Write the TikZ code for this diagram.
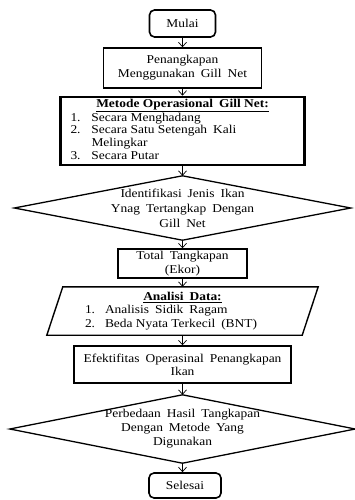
\documentclass[tikz,border=0pt]{standalone}
\usepackage{fontspec}
\setmainfont{Liberation Serif}[FakeStretch=1.12]
\usetikzlibrary{arrows.meta,calc}
\newcommand{\dsp}{\hspace{0.5em}}
\begin{document}
\begin{tikzpicture}[x=1pt,y=-1pt,
  every node/.style={font=\fontsize{12}{13}\selectfont, align=center, inner sep=0pt},
  blk/.style={draw, line width=1.4pt},
  term/.style={draw, line width=1.6pt, rounded corners=5pt},
  ghost/.style={draw=none},
  shapeline/.style={line width=1.3pt, line join=miter},
  arr/.style={line width=0.7pt, -{Straight Barb[length=4.5pt,width=8pt,line width=0.7pt]}}]
\useasboundingbox (0,0) rectangle (354,500);

\node[term, minimum width=66, minimum height=27] (start) at (182.5,23.5) {Mulai};
\node[blk, minimum width=158, minimum height=40, font=\fontsize{12}{14}\selectfont] (p1) at (182.5,68) {Penangkapan\\Menggunakan\dsp Gill\dsp Net};
\node[blk, line width=2.6pt, minimum width=244, minimum height=68, font=\fontsize{12}{12.8}\selectfont] (m) at (182.5,131)
 {\raisebox{-1pt}{\begin{tabular}{@{}p{21pt}@{}p{203pt}@{}}
  \multicolumn{2}{c}{\textbf{\underline{Metode Operasional\dsp Gill Net:}}}\\
  1. & Secara Menghadang\\
  2. & Secara Satu Setengah\dsp Kali\\
     & Melingkar\\
  3. & Secara Putar
  \end{tabular}}};
\node[ghost, minimum width=336, minimum height=64, font=\fontsize{12}{15}\selectfont] (d1) at (182.5,208)
 {Identifikasi\dsp Jenis\dsp Ikan\\Ynag\dsp Tertangkap\dsp Dengan\\Gill\dsp Net};
\draw[shapeline] (d1.west) -- (d1.north) -- (d1.east) -- (d1.south) -- cycle;
\node[blk, minimum width=129, minimum height=27, font=\fontsize{12}{14.5}\selectfont] (t) at (182.5,263.5)
 {\raisebox{-2pt}{\begin{tabular}{@{}c@{}}Total\dsp Tangkapan\\(Ekor)\end{tabular}}};
\node[ghost, minimum width=271, minimum height=48, font=\fontsize{12}{13.5}\selectfont] (ad) at (182.5,311)
 {\raisebox{-2.5pt}{\begin{tabular}{@{}p{20pt}@{}p{175pt}@{}}
  \multicolumn{2}{c}{\textbf{\underline{Analisi\dsp Data:}}}\\
  1. & Analisis\dsp Sidik\dsp Ragam\\
  2. & Beda Nyata Terkecil\dsp (BNT)
  \end{tabular}}};
\draw[blk] ($(ad.north west)+(16,0)$) -- (ad.north east) -- ($(ad.south east)+(-16,0)$) -- (ad.south west) -- cycle;
\node[blk, minimum width=217, minimum height=37] (e) at (182.5,364.5) {Efektifitas\dsp Operasinal\dsp Penangkapan\\Ikan};
\node[ghost, minimum width=345, minimum height=68, font=\fontsize{12}{14}\selectfont] (d2) at (182.5,429)
 {Perbedaan\dsp Hasil\dsp Tangkapan\\Dengan\dsp Metode\dsp Yang\\Digunakan};
\draw[shapeline] (d2.west) -- (d2.north) -- (d2.east) -- (d2.south) -- cycle;
\node[term, minimum width=72, minimum height=25] (end) at (185,485.5) {Selesai};

\draw[arr] (start) -- (p1);
\draw[arr] (p1) -- (m);
\draw[arr] (m.south) -- (d1.north);
\draw[arr] (d1.south) -- (t.north);
\draw[arr] (t.south) -- (ad.north);
\draw[arr] (ad.south) -- (e.north);
\draw[arr] (e.south) -- (d2.north);
\draw[arr] (d2.south) -- (d2.south |- end.north);
\end{tikzpicture}
\end{document}
